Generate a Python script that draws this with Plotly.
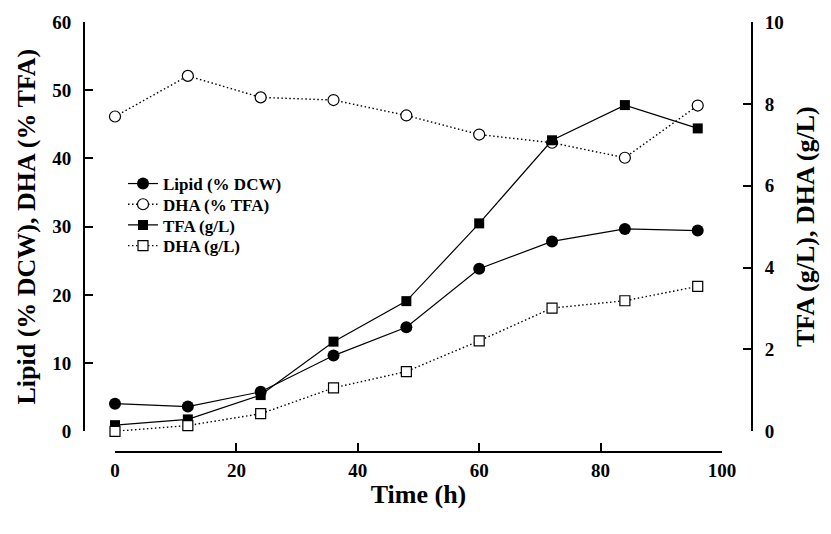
import plotly.graph_objects as go

time_h = [0, 12, 24, 36, 48, 60, 72, 84, 96]
lipid_dcw = [4.05, 3.62, 5.79, 11.1, 15.25, 23.83, 27.83, 29.66, 29.42]
dha_tfa = [46.15, 52.1, 48.95, 48.56, 46.3, 43.5, 42.3, 40.1, 47.75]
tfa_gl = [0.15, 0.29, 0.885, 2.19, 3.18, 5.08, 7.11, 7.97, 7.40]
dha_gl = [0.0, 0.14, 0.43, 1.06, 1.46, 2.21, 3.01, 3.19, 3.54]

x_ticks = [0, 20, 40, 60, 80, 100]
y_left_ticks = [0, 10, 20, 30, 40, 50, 60]
y_right_ticks = [0, 2, 4, 6, 8, 10]

FONT = "Liberation Serif, Times New Roman, serif"
W, H = 831, 534
L, R, T, B = 84, 79, 16, 82
PW, PH = W - L - R, H - T - B
DOT = "1.5px,2.5px"

fig = go.Figure()

fig.add_trace(go.Scatter(
    x=time_h, y=lipid_dcw, name="Lipid (% DCW)", mode="lines+markers",
    line=dict(color="black", width=1.2),
    marker=dict(symbol="circle", size=12, color="black"),
    cliponaxis=False, yaxis="y", legend="legend"))
fig.add_trace(go.Scatter(
    x=time_h, y=dha_tfa, name="DHA (% TFA)", mode="lines+markers",
    line=dict(color="black", width=1.4, dash=DOT),
    marker=dict(symbol="circle", size=11, color="white",
                line=dict(color="black", width=1.2)),
    cliponaxis=False, yaxis="y", legend="legend2"))
fig.add_trace(go.Scatter(
    x=time_h, y=tfa_gl, name="TFA (g/L)", mode="lines+markers",
    line=dict(color="black", width=1.2),
    marker=dict(symbol="square", size=10, color="black"),
    cliponaxis=False, yaxis="y2", legend="legend3"))
fig.add_trace(go.Scatter(
    x=time_h, y=dha_gl, name="DHA (g/L)", mode="lines+markers",
    line=dict(color="black", width=1.4, dash=DOT),
    marker=dict(symbol="square", size=10, color="white",
                line=dict(color="black", width=1.2)),
    cliponaxis=False, yaxis="y2", legend="legend4"))

tickfont = dict(family=FONT, size=19, color="black", weight="bold")
titlefont = dict(family=FONT, size=26, color="black", weight="bold")
legfont = dict(family=FONT, size=17, color="black", weight="bold")


def leg(row_center):
    return dict(x=(123 - L) / PW, y=(H - B - (row_center - 21)) / PH,
                xanchor="left", yanchor="top", font=legfont,
                bgcolor="rgba(0,0,0,0)", borderwidth=0)


fig.update_layout(
    width=W, height=H,
    margin=dict(l=L, r=R, t=T, b=B, pad=0),
    paper_bgcolor="white", plot_bgcolor="white",
    showlegend=True,
    legend=leg(183), legend2=leg(204), legend3=leg(225), legend4=leg(246),
    xaxis=dict(
        domain=[(115 - L) / PW, (722 - L) / PW], range=[0, 100],
        anchor="free", position=0,
        tickvals=x_ticks, ticks="inside", ticklen=8, tickwidth=2, tickcolor="black",
        showline=True, linecolor="black", linewidth=2, showgrid=False, zeroline=False,
        tickfont=tickfont, ticklabelstandoff=1,
        title=dict(text="Time (h)", font=titlefont, standoff=4)),
    yaxis=dict(
        domain=[(H - B - 431) / PH, 1], range=[0, 60],
        anchor="free", position=0,
        tickvals=y_left_ticks, ticks="inside", ticklen=8, tickwidth=2, tickcolor="black",
        showline=True, linecolor="black", linewidth=2, showgrid=False, zeroline=False,
        tickfont=tickfont, ticklabelstandoff=8,
        title=dict(text="Lipid (% DCW), DHA (% TFA)", font=titlefont, standoff=8)),
    yaxis2=dict(
        overlaying="y", side="right", range=[0, 10],
        anchor="free", position=1,
        tickvals=y_right_ticks, ticks="inside", ticklen=8, tickwidth=2, tickcolor="black",
        showline=True, linecolor="black", linewidth=2, showgrid=False, zeroline=False,
        tickfont=tickfont, ticklabelstandoff=8,
        title=dict(text="TFA (g/L), DHA (g/L)", font=titlefont, standoff=12)),
)

fig.write_html("out.html")
